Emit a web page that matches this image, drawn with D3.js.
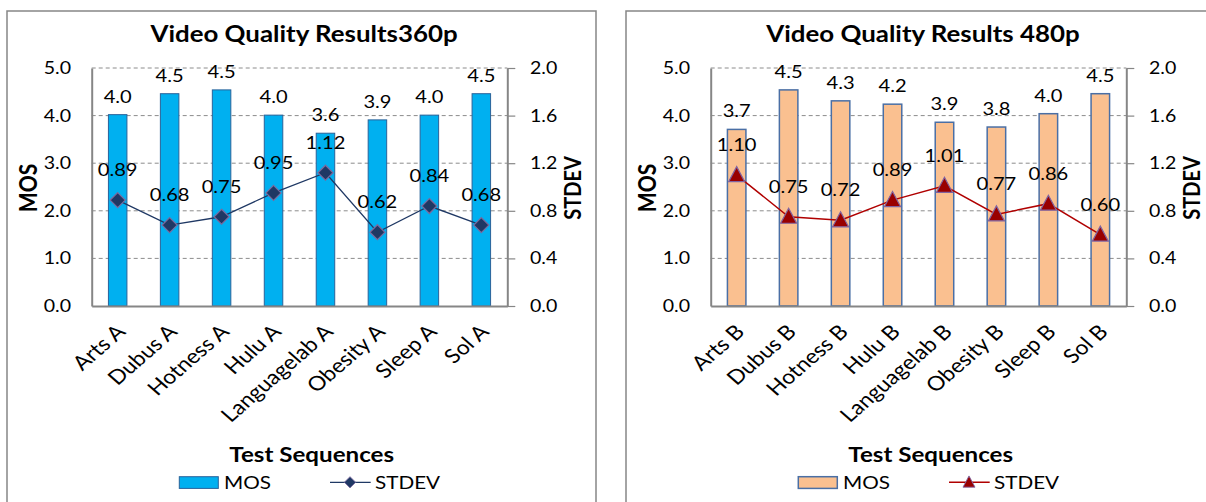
<!DOCTYPE html>
<html>
<head>
<meta charset="utf-8">
<script src="https://cdn.jsdelivr.net/npm/d3@7"></script>
<style>
  html, body { margin: 0; padding: 0; background: #fff; }
  svg { display: block; }
  text { font-family: Lato, "Open Sans", sans-serif; fill: #000; }
</style>
</head>
<body>
<svg id="chart" width="1206" height="502"></svg>
<script>
// ---- data ----
const categories360 = ["Arts A", "Dubus A", "Hotness A", "Hulu A", "Languagelab A", "Obesity A", "Sleep A", "Sol A"];
const mos360 = [4.02, 4.46, 4.54, 4.01, 3.63, 3.91, 4.01, 4.46];
const stdev360 = [0.89, 0.68, 0.75, 0.95, 1.12, 0.62, 0.84, 0.68];

const categories480 = ["Arts B", "Dubus B", "Hotness B", "Hulu B", "Languagelab B", "Obesity B", "Sleep B", "Sol B"];
const mos480 = [3.71, 4.54, 4.31, 4.24, 3.86, 3.76, 4.04, 4.46];
const stdev480 = [1.10, 0.75, 0.72, 0.89, 1.01, 0.77, 0.86, 0.60];

const mosTicks = [0, 1, 2, 3, 4, 5];
const stdevTicks = [0, 0.4, 0.8, 1.2, 1.6, 2.0];
const seriesNames = ["MOS", "STDEV"];

// ---- layout ----
const SX = 1.15;            // horizontal stretch applied to all text
const FS = 17;              // regular text size
const FS_LABEL = 17.5;      // data labels
const FS_CAT = 20;          // category labels
const FS_TITLE = 22.5;      // chart title
const FS_AXIS_TITLE = 21;   // axis titles
const fmt1 = d3.format(".1f");
const fmt2 = d3.format(".2f");

const svg = d3.select("#chart");

function stretched(x, y, rot) {
  return `translate(${x},${y}) scale(${SX},1)` + (rot ? ` rotate(${rot})` : "");
}

function addText(g, str, x, y, opts = {}) {
  return g.append("text")
    .attr("transform", stretched(x, y, opts.rotate))
    .attr("text-anchor", opts.anchor || "middle")
    .attr("font-size", opts.size || FS)
    .attr("font-weight", opts.bold ? 700 : 400)
    .text(str);
}

const diamondPath = "M0,-7.5L7.5,0L0,7.5L-7.5,0Z";
const trianglePath = "M0,-8.5L8,6.5L-8,6.5Z";

function drawChart(offsetX, cfg) {
  const g = svg.append("g").attr("transform", `translate(${offsetX},0)`);
  const left = 91.7, right = 507.3, top = 68, bottom = 306;

  const x = d3.scaleBand().domain(cfg.categories).range([left, right]);
  const yL = d3.scaleLinear().domain([0, 5]).range([bottom, top]);
  const yR = d3.scaleLinear().domain([0, 2]).range([bottom, top]);
  const cx = c => x(c) + x.bandwidth() / 2;
  const barW = 18.5;

  // chart frame
  g.append("rect")
    .attr("x", 7).attr("y", 11).attr("width", 589).attr("height", 540)
    .attr("fill", "#fff").attr("stroke", "#868686").attr("stroke-width", 1.5);

  // title
  addText(g, cfg.title, 304, 41.7, { size: FS_TITLE, bold: true });

  // dashed gridlines
  g.append("g").selectAll("line")
    .data(mosTicks.filter(t => t > 0))
    .join("line")
    .attr("x1", left).attr("x2", right)
    .attr("y1", d => yL(d)).attr("y2", d => yL(d))
    .attr("stroke", "#8c8c8c").attr("stroke-width", 1)
    .attr("stroke-dasharray", "4,3");

  // MOS bars
  g.append("g").selectAll("rect")
    .data(cfg.mos)
    .join("rect")
    .attr("x", (d, i) => cx(cfg.categories[i]) - barW / 2)
    .attr("y", d => yL(d))
    .attr("width", barW)
    .attr("height", d => yL(0) - yL(d))
    .attr("fill", cfg.barFill)
    .attr("stroke", cfg.barStroke)
    .attr("stroke-width", cfg.barStrokeWidth);

  // left axis (MOS)
  const axL = g.append("g").attr("transform", `translate(${left},0)`)
    .call(d3.axisLeft(yL).tickValues(mosTicks).tickFormat(fmt1).tickSize(0).tickSizeOuter(0).tickPadding(18));
  axL.select(".domain").attr("stroke", "#868686").attr("stroke-width", 2);
  axL.selectAll("text").attr("font-size", FS).attr("font-family", "Lato, 'Open Sans', sans-serif")
    .attr("transform", `scale(${SX},1)`);

  // right axis (STDEV)
  const axR = g.append("g").attr("transform", `translate(${right},0)`)
    .call(d3.axisRight(yR).tickValues(stdevTicks).tickFormat(fmt1).tickSize(8).tickSizeOuter(0).tickPadding(11.7));
  axR.select(".domain").attr("stroke", "#868686").attr("stroke-width", 2);
  axR.selectAll(".tick line").attr("stroke", "#868686").attr("stroke-width", 1.2);
  axR.selectAll("text").attr("font-size", FS).attr("font-family", "Lato, 'Open Sans', sans-serif")
    .attr("transform", `scale(${SX},1)`);

  // bottom axis (categories)
  const axB = g.append("g").attr("transform", `translate(0,${bottom})`)
    .call(d3.axisBottom(x).tickSize(0).tickSizeOuter(0));
  axB.select(".domain").attr("stroke", "#868686").attr("stroke-width", 2);
  axB.selectAll("text")
    .attr("font-size", FS_CAT).attr("font-family", "Lato, 'Open Sans', sans-serif")
    .attr("x", 0).attr("y", 0).attr("dy", null)
    .attr("text-anchor", "end")
    .attr("transform", `translate(9,27) scale(${SX},1) rotate(-45)`);

  // STDEV line + markers
  const line = d3.line().x((d, i) => cx(cfg.categories[i])).y(d => yR(d));
  g.append("path").datum(cfg.stdev)
    .attr("d", line).attr("fill", "none")
    .attr("stroke", cfg.lineColor).attr("stroke-width", cfg.lineWidth);
  g.append("g").selectAll("path")
    .data(cfg.stdev)
    .join("path")
    .attr("d", cfg.marker)
    .attr("transform", (d, i) => `translate(${cx(cfg.categories[i])},${yR(d)})`)
    .attr("fill", cfg.markerFill).attr("stroke", cfg.markerStroke).attr("stroke-width", 1.2);

  // data labels
  cfg.mos.forEach((d, i) => addText(g, fmt1(d), cx(cfg.categories[i]), yL(d) - 12, { size: FS_LABEL }));
  cfg.stdev.forEach((d, i) => addText(g, fmt2(d), cx(cfg.categories[i]), yR(d) - 24, { size: FS_LABEL }));

  // axis titles
  addText(g, "MOS", 37, 188, { size: FS_AXIS_TITLE, bold: true, rotate: -90 });
  addText(g, "STDEV", 581, 188, { size: FS_AXIS_TITLE - 1, bold: true, rotate: -90 });
  addText(g, "Test Sequences", 311.7, 461.7, { size: FS_AXIS_TITLE, bold: true });

  // legend
  const lg = g.append("g");
  lg.append("rect").attr("x", 179.3).attr("y", 476.7).attr("width", 39).attr("height", 11.7)
    .attr("fill", cfg.barFill).attr("stroke", cfg.barStroke).attr("stroke-width", cfg.barStrokeWidth);
  addText(lg, seriesNames[0], 224, 489.3, { anchor: "start", size: FS + 1 });
  lg.append("line").attr("x1", 330).attr("x2", 370.7).attr("y1", 482.3).attr("y2", 482.3)
    .attr("stroke", cfg.lineColor).attr("stroke-width", cfg.lineWidth);
  lg.append("path").attr("d", cfg.marker).attr("transform", "translate(350,482.3) scale(0.75)")
    .attr("fill", cfg.markerFill).attr("stroke", cfg.markerStroke).attr("stroke-width", 1.2);
  addText(lg, seriesNames[1], 375, 489.3, { anchor: "start", size: FS + 1 });
}

drawChart(0, {
  title: "Video Quality Results360p",
  categories: categories360, mos: mos360, stdev: stdev360,
  barFill: "#00B0F0", barStroke: "#2A6299", barStrokeWidth: 1,
  lineColor: "#1F3864", lineWidth: 1.3,
  marker: diamondPath, markerFill: "#1F3864", markerStroke: "#7A6A9E"
});

drawChart(619, {
  title: "Video Quality Results 480p",
  categories: categories480, mos: mos480, stdev: stdev480,
  barFill: "#FAC090", barStroke: "#4A6FA5", barStrokeWidth: 1.5,
  lineColor: "#B00000", lineWidth: 1.5,
  marker: trianglePath, markerFill: "#990000", markerStroke: "#8064A2"
});
</script>
</body>
</html>
